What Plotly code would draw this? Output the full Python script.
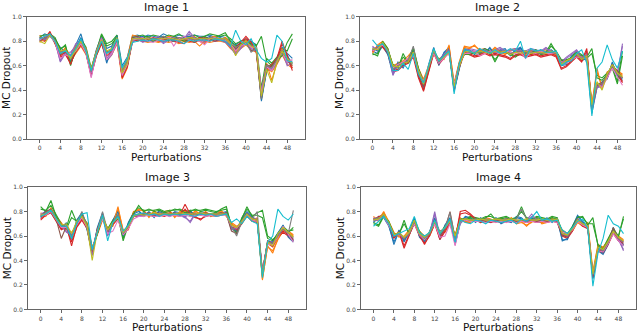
import plotly.graph_objects as go

perturbations = list(range(50))
x_ticks = list(range(0, 49, 4))
y_ticks = [0.0, 0.2, 0.4, 0.6, 0.8, 1.0]
titles = ["Image 1", "Image 2", "Image 3", "Image 4"]
colors = ["#1f77b4", "#ff7f0e", "#2ca02c", "#d62728", "#9467bd",
          "#8c564b", "#e377c2", "#7f7f7f", "#bcbd22", "#17becf"]

image1 = [
 [0.81,0.84,0.85,0.79,0.72,0.70,0.64,0.75,0.83,0.70,0.54,0.72,0.80,0.62,0.75,0.84,0.52,0.60,0.83,0.82,0.84,0.81,0.80,0.83,0.84,0.81,0.80,0.82,0.83,0.84,0.81,0.83,0.82,0.84,0.82,0.83,0.81,0.77,0.73,0.78,0.80,0.77,0.73,0.31,0.56,0.57,0.62,0.71,0.68,0.62],
 [0.79,0.82,0.86,0.81,0.71,0.74,0.68,0.76,0.79,0.74,0.57,0.72,0.82,0.72,0.71,0.80,0.56,0.66,0.85,0.84,0.81,0.83,0.82,0.80,0.82,0.84,0.83,0.80,0.81,0.82,0.84,0.80,0.78,0.83,0.84,0.81,0.83,0.79,0.72,0.76,0.81,0.75,0.75,0.38,0.62,0.48,0.62,0.74,0.65,0.60],
 [0.84,0.85,0.85,0.82,0.74,0.76,0.62,0.72,0.78,0.73,0.56,0.69,0.85,0.76,0.78,0.83,0.53,0.60,0.81,0.82,0.83,0.84,0.80,0.81,0.82,0.80,0.84,0.82,0.80,0.81,0.83,0.82,0.84,0.81,0.83,0.85,0.87,0.80,0.76,0.78,0.79,0.78,0.76,0.84,0.64,0.60,0.65,0.68,0.79,0.86],
 [0.83,0.82,0.88,0.78,0.68,0.71,0.61,0.73,0.81,0.71,0.53,0.70,0.79,0.68,0.72,0.82,0.50,0.59,0.82,0.80,0.82,0.81,0.83,0.82,0.81,0.83,0.81,0.79,0.78,0.82,0.81,0.83,0.82,0.80,0.82,0.81,0.80,0.77,0.75,0.79,0.84,0.79,0.72,0.36,0.58,0.61,0.66,0.80,0.67,0.56],
 [0.82,0.81,0.84,0.80,0.63,0.70,0.69,0.78,0.80,0.72,0.54,0.71,0.83,0.66,0.71,0.81,0.55,0.63,0.80,0.83,0.80,0.82,0.81,0.84,0.79,0.82,0.83,0.81,0.82,0.88,0.83,0.81,0.80,0.82,0.81,0.82,0.80,0.76,0.70,0.75,0.80,0.74,0.73,0.40,0.60,0.57,0.63,0.73,0.62,0.64],
 [0.80,0.83,0.86,0.81,0.69,0.72,0.66,0.74,0.79,0.72,0.56,0.69,0.80,0.71,0.73,0.80,0.54,0.62,0.83,0.84,0.82,0.81,0.82,0.82,0.83,0.80,0.82,0.83,0.82,0.82,0.79,0.82,0.83,0.82,0.80,0.82,0.82,0.78,0.74,0.77,0.79,0.72,0.74,0.34,0.61,0.59,0.65,0.72,0.64,0.60],
 [0.81,0.84,0.85,0.79,0.66,0.69,0.67,0.72,0.78,0.70,0.50,0.70,0.82,0.65,0.70,0.79,0.52,0.61,0.81,0.82,0.83,0.80,0.79,0.81,0.82,0.83,0.76,0.82,0.84,0.81,0.82,0.80,0.77,0.82,0.83,0.81,0.81,0.78,0.72,0.76,0.78,0.75,0.75,0.37,0.59,0.56,0.64,0.71,0.63,0.65],
 [0.83,0.82,0.86,0.80,0.71,0.73,0.65,0.75,0.81,0.73,0.55,0.71,0.81,0.70,0.74,0.82,0.55,0.63,0.82,0.83,0.81,0.83,0.82,0.82,0.84,0.82,0.81,0.83,0.82,0.82,0.81,0.82,0.81,0.83,0.82,0.82,0.82,0.78,0.75,0.77,0.80,0.71,0.74,0.33,0.60,0.58,0.64,0.71,0.66,0.61],
 [0.80,0.78,0.85,0.80,0.72,0.73,0.66,0.73,0.80,0.72,0.57,0.71,0.81,0.72,0.74,0.83,0.54,0.62,0.82,0.82,0.82,0.82,0.81,0.82,0.82,0.82,0.82,0.81,0.82,0.83,0.82,0.82,0.82,0.82,0.82,0.82,0.82,0.78,0.68,0.77,0.80,0.76,0.74,0.35,0.57,0.46,0.63,0.72,0.66,0.62],
 [0.82,0.84,0.86,0.80,0.70,0.72,0.68,0.74,0.82,0.72,0.56,0.70,0.80,0.70,0.73,0.82,0.58,0.66,0.79,0.80,0.81,0.80,0.82,0.81,0.80,0.81,0.81,0.80,0.78,0.81,0.80,0.81,0.81,0.80,0.82,0.81,0.80,0.76,0.89,0.80,0.77,0.82,0.73,0.66,0.63,0.66,0.85,0.80,0.64,0.63],
]
image1_extra = [
 [0.83,0.86,0.84,0.81,0.75,0.71,0.63,0.77,0.86,0.71,0.57,0.73,0.84,0.74,0.76,0.85,0.60,0.67,0.84,0.85,0.83,0.85,0.84,0.83,0.86,0.84,0.83,0.85,0.84,0.83,0.85,0.84,0.84,0.85,0.83,0.84,0.83,0.80,0.77,0.80,0.82,0.80,0.77,0.33,0.55,0.60,0.66,0.75,0.70,0.66],
 [0.85,0.80,0.87,0.78,0.68,0.75,0.64,0.70,0.76,0.69,0.52,0.68,0.78,0.64,0.69,0.78,0.49,0.58,0.80,0.81,0.80,0.79,0.80,0.79,0.80,0.79,0.80,0.78,0.80,0.79,0.80,0.76,0.80,0.79,0.80,0.80,0.79,0.74,0.71,0.74,0.77,0.73,0.71,0.32,0.58,0.55,0.61,0.69,0.61,0.58],
 [0.82,0.83,0.86,0.83,0.73,0.77,0.60,0.74,0.82,0.75,0.58,0.73,0.86,0.78,0.80,0.85,0.56,0.64,0.83,0.84,0.85,0.83,0.85,0.84,0.83,0.85,0.84,0.86,0.83,0.84,0.85,0.83,0.84,0.86,0.85,0.84,0.85,0.82,0.78,0.80,0.81,0.79,0.77,0.42,0.66,0.62,0.67,0.74,0.72,0.82],
 [0.81,0.80,0.87,0.79,0.67,0.69,0.62,0.71,0.77,0.70,0.52,0.68,0.78,0.66,0.70,0.80,0.51,0.60,0.80,0.81,0.80,0.80,0.81,0.80,0.80,0.81,0.80,0.80,0.81,0.80,0.79,0.81,0.80,0.81,0.80,0.81,0.80,0.76,0.72,0.76,0.82,0.77,0.71,0.34,0.57,0.60,0.64,0.78,0.69,0.58],
 [0.80,0.82,0.85,0.79,0.64,0.71,0.71,0.76,0.78,0.71,0.51,0.69,0.82,0.64,0.69,0.79,0.53,0.61,0.79,0.82,0.79,0.81,0.80,0.82,0.78,0.81,0.81,0.80,0.81,0.86,0.81,0.80,0.79,0.81,0.80,0.81,0.79,0.75,0.69,0.74,0.79,0.73,0.72,0.38,0.59,0.56,0.62,0.72,0.60,0.62],
]

image2 = [
 [0.74,0.72,0.77,0.70,0.55,0.62,0.60,0.65,0.72,0.53,0.44,0.60,0.74,0.61,0.70,0.74,0.40,0.58,0.73,0.72,0.70,0.73,0.71,0.74,0.70,0.72,0.73,0.69,0.72,0.74,0.70,0.72,0.71,0.72,0.70,0.72,0.71,0.61,0.62,0.67,0.70,0.65,0.67,0.23,0.44,0.46,0.50,0.62,0.52,0.49],
 [0.71,0.76,0.79,0.73,0.58,0.61,0.63,0.66,0.71,0.56,0.47,0.59,0.70,0.65,0.66,0.77,0.44,0.62,0.75,0.74,0.77,0.72,0.73,0.70,0.74,0.71,0.70,0.72,0.73,0.70,0.69,0.72,0.70,0.71,0.72,0.70,0.69,0.63,0.64,0.65,0.68,0.67,0.69,0.27,0.58,0.41,0.54,0.58,0.55,0.52],
 [0.70,0.68,0.80,0.74,0.59,0.58,0.70,0.62,0.74,0.57,0.46,0.57,0.73,0.64,0.68,0.71,0.43,0.61,0.70,0.69,0.71,0.70,0.74,0.72,0.63,0.71,0.72,0.70,0.68,0.71,0.72,0.70,0.73,0.70,0.71,0.78,0.71,0.64,0.65,0.66,0.71,0.68,0.67,0.74,0.50,0.48,0.53,0.59,0.47,0.72],
 [0.72,0.75,0.76,0.71,0.56,0.57,0.61,0.63,0.69,0.52,0.40,0.56,0.71,0.62,0.67,0.72,0.41,0.59,0.71,0.70,0.68,0.69,0.71,0.69,0.70,0.69,0.68,0.66,0.69,0.70,0.68,0.69,0.70,0.68,0.69,0.70,0.68,0.58,0.60,0.64,0.68,0.64,0.74,0.26,0.44,0.45,0.51,0.61,0.54,0.47],
 [0.75,0.73,0.78,0.72,0.54,0.60,0.62,0.64,0.70,0.55,0.45,0.58,0.72,0.63,0.69,0.73,0.42,0.60,0.72,0.73,0.72,0.71,0.73,0.71,0.72,0.74,0.71,0.72,0.73,0.72,0.71,0.73,0.72,0.71,0.74,0.71,0.70,0.62,0.66,0.69,0.72,0.66,0.69,0.24,0.43,0.44,0.52,0.60,0.53,0.78],
 [0.73,0.74,0.78,0.72,0.57,0.60,0.61,0.64,0.70,0.54,0.43,0.58,0.72,0.63,0.68,0.72,0.44,0.60,0.72,0.71,0.71,0.71,0.72,0.71,0.71,0.72,0.71,0.70,0.71,0.72,0.71,0.71,0.71,0.70,0.71,0.71,0.70,0.62,0.63,0.66,0.69,0.66,0.68,0.25,0.45,0.46,0.52,0.60,0.56,0.50],
 [0.72,0.74,0.77,0.72,0.58,0.61,0.63,0.66,0.68,0.56,0.46,0.60,0.70,0.62,0.66,0.70,0.45,0.61,0.70,0.70,0.72,0.68,0.70,0.72,0.71,0.70,0.72,0.71,0.70,0.71,0.66,0.71,0.70,0.72,0.70,0.70,0.71,0.63,0.62,0.65,0.67,0.67,0.66,0.27,0.46,0.42,0.50,0.58,0.51,0.44],
 [0.73,0.75,0.78,0.73,0.57,0.60,0.62,0.64,0.76,0.55,0.45,0.58,0.72,0.63,0.68,0.72,0.42,0.60,0.72,0.71,0.71,0.71,0.72,0.71,0.71,0.72,0.71,0.70,0.71,0.72,0.71,0.71,0.71,0.70,0.71,0.71,0.70,0.62,0.63,0.66,0.69,0.66,0.68,0.25,0.45,0.45,0.52,0.60,0.53,0.50],
 [0.74,0.73,0.79,0.72,0.60,0.59,0.62,0.63,0.71,0.56,0.45,0.59,0.73,0.64,0.67,0.71,0.43,0.59,0.71,0.72,0.70,0.72,0.71,0.70,0.72,0.71,0.72,0.69,0.71,0.70,0.72,0.70,0.71,0.71,0.70,0.72,0.71,0.61,0.64,0.66,0.70,0.65,0.68,0.28,0.47,0.40,0.53,0.61,0.54,0.51],
 [0.81,0.76,0.78,0.71,0.56,0.56,0.62,0.57,0.70,0.53,0.46,0.60,0.74,0.64,0.68,0.72,0.37,0.62,0.73,0.72,0.70,0.74,0.72,0.70,0.73,0.70,0.71,0.74,0.72,0.80,0.66,0.74,0.72,0.73,0.71,0.71,0.72,0.60,0.63,0.64,0.70,0.73,0.62,0.19,0.58,0.63,0.77,0.65,0.58,0.72],
]
image2_extra = [
 [0.72,0.70,0.76,0.69,0.53,0.63,0.58,0.66,0.74,0.51,0.42,0.61,0.75,0.60,0.71,0.75,0.39,0.57,0.74,0.73,0.69,0.74,0.70,0.75,0.69,0.73,0.74,0.68,0.73,0.75,0.69,0.73,0.70,0.73,0.69,0.73,0.70,0.60,0.61,0.68,0.71,0.64,0.66,0.21,0.42,0.47,0.49,0.63,0.51,0.48],
 [0.70,0.77,0.80,0.74,0.60,0.62,0.64,0.68,0.73,0.58,0.49,0.60,0.69,0.66,0.65,0.76,0.46,0.63,0.76,0.75,0.76,0.73,0.74,0.71,0.75,0.72,0.69,0.73,0.74,0.71,0.70,0.73,0.69,0.72,0.73,0.71,0.70,0.64,0.65,0.64,0.69,0.68,0.70,0.29,0.55,0.43,0.55,0.57,0.56,0.53],
 [0.69,0.70,0.79,0.73,0.61,0.59,0.67,0.63,0.75,0.58,0.47,0.56,0.72,0.65,0.69,0.70,0.44,0.62,0.69,0.70,0.70,0.69,0.73,0.71,0.65,0.70,0.71,0.69,0.67,0.70,0.71,0.69,0.72,0.69,0.70,0.76,0.72,0.65,0.64,0.67,0.72,0.69,0.66,0.70,0.52,0.50,0.54,0.58,0.45,0.68],
 [0.71,0.76,0.75,0.70,0.55,0.56,0.60,0.62,0.67,0.50,0.39,0.55,0.70,0.61,0.66,0.71,0.40,0.58,0.70,0.69,0.67,0.68,0.70,0.68,0.69,0.68,0.67,0.65,0.68,0.69,0.67,0.68,0.69,0.67,0.68,0.69,0.67,0.57,0.59,0.63,0.67,0.63,0.72,0.25,0.43,0.44,0.50,0.60,0.53,0.46],
 [0.76,0.72,0.77,0.73,0.52,0.61,0.63,0.65,0.71,0.56,0.44,0.59,0.73,0.64,0.70,0.74,0.41,0.61,0.73,0.74,0.73,0.72,0.74,0.72,0.73,0.75,0.72,0.73,0.74,0.73,0.72,0.74,0.73,0.72,0.75,0.72,0.71,0.63,0.67,0.70,0.73,0.67,0.70,0.23,0.42,0.43,0.53,0.61,0.54,0.76],
]

image3 = [
 [0.76,0.80,0.80,0.73,0.67,0.70,0.58,0.72,0.78,0.66,0.47,0.66,0.78,0.62,0.72,0.80,0.60,0.70,0.78,0.80,0.77,0.79,0.76,0.80,0.78,0.77,0.79,0.78,0.76,0.80,0.77,0.79,0.78,0.77,0.79,0.78,0.79,0.67,0.64,0.73,0.79,0.75,0.72,0.28,0.54,0.55,0.62,0.68,0.60,0.56],
 [0.78,0.77,0.82,0.75,0.70,0.66,0.62,0.69,0.75,0.70,0.50,0.62,0.74,0.66,0.69,0.84,0.64,0.66,0.79,0.82,0.80,0.76,0.80,0.77,0.79,0.80,0.76,0.79,0.80,0.77,0.80,0.78,0.79,0.77,0.78,0.80,0.77,0.70,0.67,0.71,0.77,0.73,0.74,0.24,0.52,0.46,0.58,0.65,0.63,0.60],
 [0.84,0.80,0.89,0.76,0.69,0.67,0.81,0.71,0.77,0.69,0.49,0.63,0.75,0.65,0.72,0.76,0.56,0.69,0.78,0.85,0.80,0.82,0.80,0.81,0.79,0.80,0.82,0.81,0.79,0.80,0.82,0.80,0.81,0.80,0.79,0.82,0.84,0.68,0.62,0.74,0.84,0.76,0.79,0.81,0.60,0.57,0.61,0.67,0.63,0.67],
 [0.74,0.78,0.80,0.73,0.66,0.68,0.52,0.68,0.74,0.67,0.46,0.65,0.76,0.63,0.70,0.75,0.62,0.67,0.77,0.77,0.79,0.78,0.77,0.78,0.77,0.79,0.78,0.77,0.86,0.78,0.76,0.73,0.77,0.78,0.77,0.78,0.79,0.69,0.65,0.71,0.78,0.73,0.72,0.32,0.55,0.52,0.60,0.64,0.61,0.57],
 [0.77,0.79,0.81,0.74,0.68,0.64,0.60,0.70,0.76,0.68,0.44,0.64,0.76,0.61,0.71,0.75,0.62,0.68,0.76,0.77,0.77,0.78,0.78,0.77,0.78,0.77,0.78,0.78,0.76,0.71,0.78,0.78,0.77,0.78,0.77,0.78,0.78,0.66,0.66,0.72,0.78,0.74,0.73,0.30,0.55,0.54,0.60,0.66,0.62,0.58],
 [0.76,0.80,0.82,0.74,0.58,0.68,0.58,0.71,0.76,0.68,0.48,0.63,0.76,0.64,0.71,0.74,0.63,0.68,0.77,0.78,0.78,0.79,0.78,0.79,0.78,0.78,0.79,0.78,0.78,0.79,0.78,0.78,0.79,0.78,0.78,0.79,0.78,0.64,0.62,0.72,0.78,0.74,0.73,0.30,0.56,0.54,0.61,0.66,0.62,0.57],
 [0.78,0.77,0.80,0.73,0.67,0.67,0.62,0.69,0.75,0.67,0.49,0.64,0.74,0.62,0.64,0.73,0.61,0.66,0.74,0.76,0.76,0.77,0.76,0.76,0.77,0.76,0.77,0.76,0.77,0.76,0.77,0.77,0.76,0.77,0.76,0.77,0.77,0.68,0.67,0.71,0.77,0.73,0.72,0.31,0.53,0.53,0.59,0.68,0.61,0.55],
 [0.77,0.79,0.81,0.74,0.68,0.69,0.60,0.70,0.80,0.68,0.48,0.64,0.80,0.64,0.71,0.78,0.62,0.68,0.76,0.78,0.78,0.78,0.78,0.78,0.78,0.78,0.78,0.78,0.78,0.78,0.78,0.78,0.78,0.78,0.78,0.78,0.78,0.68,0.60,0.72,0.78,0.74,0.80,0.30,0.55,0.54,0.60,0.66,0.62,0.81],
 [0.77,0.78,0.81,0.74,0.69,0.70,0.62,0.72,0.76,0.68,0.40,0.64,0.76,0.65,0.71,0.75,0.63,0.68,0.76,0.78,0.77,0.78,0.79,0.78,0.78,0.78,0.78,0.79,0.78,0.78,0.78,0.79,0.78,0.78,0.78,0.78,0.78,0.69,0.67,0.72,0.78,0.74,0.73,0.27,0.55,0.52,0.62,0.67,0.63,0.59],
 [0.76,0.78,0.81,0.75,0.68,0.68,0.58,0.70,0.78,0.79,0.49,0.63,0.77,0.56,0.71,0.76,0.64,0.69,0.77,0.78,0.79,0.77,0.78,0.76,0.78,0.77,0.78,0.77,0.78,0.77,0.76,0.78,0.77,0.78,0.76,0.77,0.78,0.71,0.74,0.70,0.76,0.72,0.70,0.26,0.55,0.60,0.82,0.76,0.73,0.78],
]
image3_extra = [
 [0.75,0.81,0.79,0.72,0.66,0.71,0.57,0.73,0.79,0.65,0.46,0.67,0.79,0.61,0.73,0.81,0.59,0.71,0.79,0.81,0.76,0.80,0.75,0.81,0.79,0.76,0.80,0.79,0.75,0.81,0.76,0.80,0.79,0.76,0.80,0.79,0.80,0.66,0.63,0.74,0.80,0.76,0.71,0.27,0.53,0.56,0.63,0.69,0.59,0.55],
 [0.79,0.76,0.83,0.76,0.71,0.65,0.63,0.68,0.74,0.71,0.51,0.61,0.73,0.67,0.68,0.82,0.65,0.65,0.80,0.81,0.81,0.75,0.81,0.76,0.80,0.81,0.75,0.80,0.81,0.76,0.81,0.77,0.80,0.76,0.77,0.81,0.76,0.71,0.68,0.70,0.76,0.72,0.75,0.25,0.51,0.48,0.57,0.64,0.64,0.61],
 [0.82,0.81,0.85,0.77,0.70,0.66,0.75,0.72,0.78,0.70,0.50,0.62,0.76,0.66,0.73,0.77,0.58,0.70,0.79,0.83,0.81,0.81,0.81,0.82,0.80,0.81,0.81,0.82,0.80,0.81,0.81,0.81,0.82,0.81,0.80,0.81,0.82,0.69,0.63,0.75,0.82,0.77,0.77,0.75,0.58,0.56,0.62,0.68,0.64,0.65],
 [0.73,0.77,0.79,0.72,0.65,0.67,0.55,0.67,0.73,0.66,0.45,0.66,0.75,0.62,0.69,0.74,0.61,0.66,0.76,0.76,0.78,0.77,0.76,0.77,0.76,0.78,0.77,0.76,0.82,0.77,0.75,0.74,0.76,0.77,0.76,0.77,0.78,0.68,0.64,0.70,0.77,0.72,0.71,0.31,0.54,0.51,0.59,0.63,0.60,0.56],
 [0.78,0.80,0.82,0.75,0.69,0.63,0.61,0.71,0.77,0.69,0.45,0.65,0.77,0.60,0.72,0.76,0.63,0.69,0.77,0.76,0.78,0.77,0.79,0.76,0.79,0.76,0.79,0.77,0.75,0.72,0.79,0.77,0.78,0.77,0.78,0.77,0.79,0.65,0.67,0.73,0.79,0.75,0.74,0.29,0.56,0.55,0.61,0.67,0.63,0.59],
]

image4 = [
 [0.72,0.75,0.76,0.69,0.53,0.64,0.56,0.63,0.74,0.60,0.56,0.63,0.74,0.58,0.68,0.74,0.54,0.70,0.75,0.74,0.72,0.74,0.73,0.72,0.74,0.71,0.73,0.72,0.75,0.74,0.72,0.74,0.73,0.72,0.74,0.72,0.74,0.56,0.58,0.67,0.76,0.71,0.67,0.26,0.49,0.46,0.54,0.66,0.57,0.53],
 [0.75,0.73,0.80,0.71,0.62,0.60,0.59,0.64,0.71,0.63,0.59,0.61,0.71,0.62,0.64,0.72,0.60,0.74,0.72,0.72,0.74,0.72,0.74,0.73,0.72,0.74,0.72,0.74,0.71,0.72,0.68,0.72,0.74,0.71,0.72,0.74,0.72,0.64,0.61,0.65,0.72,0.69,0.70,0.30,0.52,0.50,0.56,0.63,0.59,0.56],
 [0.70,0.68,0.76,0.72,0.61,0.61,0.73,0.61,0.73,0.63,0.57,0.62,0.73,0.61,0.67,0.71,0.59,0.73,0.73,0.75,0.74,0.73,0.75,0.78,0.73,0.74,0.75,0.73,0.74,0.84,0.74,0.73,0.75,0.74,0.73,0.75,0.74,0.63,0.61,0.67,0.75,0.76,0.69,0.75,0.52,0.49,0.57,0.65,0.59,0.76],
 [0.74,0.75,0.78,0.70,0.59,0.63,0.50,0.60,0.71,0.61,0.53,0.61,0.71,0.58,0.65,0.71,0.57,0.80,0.81,0.78,0.74,0.72,0.73,0.72,0.73,0.72,0.74,0.73,0.72,0.73,0.72,0.73,0.72,0.73,0.72,0.73,0.72,0.61,0.59,0.65,0.74,0.69,0.67,0.27,0.49,0.47,0.54,0.63,0.57,0.54],
 [0.73,0.74,0.77,0.70,0.60,0.62,0.58,0.62,0.72,0.62,0.58,0.62,0.80,0.60,0.66,0.72,0.58,0.72,0.74,0.73,0.73,0.73,0.73,0.73,0.73,0.73,0.73,0.73,0.73,0.73,0.73,0.78,0.73,0.73,0.73,0.73,0.73,0.62,0.60,0.66,0.74,0.70,0.68,0.28,0.50,0.48,0.55,0.64,0.58,0.48],
 [0.74,0.74,0.77,0.70,0.60,0.62,0.58,0.62,0.72,0.62,0.58,0.62,0.72,0.60,0.66,0.80,0.58,0.72,0.74,0.73,0.72,0.73,0.72,0.73,0.72,0.73,0.72,0.73,0.72,0.73,0.72,0.73,0.72,0.73,0.72,0.73,0.72,0.60,0.60,0.66,0.74,0.70,0.68,0.28,0.50,0.48,0.55,0.67,0.58,0.55],
 [0.75,0.73,0.76,0.69,0.61,0.61,0.59,0.63,0.70,0.61,0.57,0.63,0.70,0.59,0.60,0.70,0.52,0.71,0.73,0.72,0.72,0.72,0.71,0.72,0.71,0.72,0.71,0.72,0.71,0.72,0.71,0.72,0.71,0.72,0.71,0.72,0.71,0.63,0.62,0.65,0.72,0.69,0.67,0.29,0.48,0.47,0.54,0.62,0.56,0.52],
 [0.74,0.75,0.77,0.70,0.60,0.62,0.58,0.62,0.72,0.62,0.58,0.62,0.72,0.64,0.66,0.79,0.58,0.72,0.74,0.73,0.74,0.73,0.74,0.73,0.74,0.73,0.74,0.73,0.74,0.82,0.74,0.73,0.74,0.73,0.74,0.73,0.74,0.62,0.60,0.66,0.74,0.70,0.68,0.28,0.50,0.48,0.55,0.64,0.58,0.55],
 [0.73,0.74,0.78,0.71,0.61,0.63,0.59,0.63,0.73,0.62,0.59,0.63,0.72,0.62,0.67,0.72,0.60,0.73,0.74,0.73,0.73,0.74,0.73,0.73,0.74,0.73,0.73,0.74,0.73,0.73,0.74,0.73,0.73,0.74,0.73,0.73,0.74,0.62,0.61,0.66,0.73,0.70,0.68,0.29,0.51,0.49,0.56,0.64,0.59,0.56],
 [0.68,0.72,0.76,0.70,0.60,0.62,0.64,0.66,0.76,0.63,0.60,0.63,0.73,0.62,0.67,0.74,0.55,0.73,0.71,0.70,0.73,0.72,0.70,0.73,0.72,0.71,0.72,0.73,0.70,0.74,0.72,0.75,0.80,0.73,0.74,0.72,0.73,0.65,0.62,0.67,0.72,0.74,0.66,0.19,0.46,0.58,0.77,0.70,0.68,0.62],
]
image4_extra = [
 [0.71,0.76,0.75,0.68,0.55,0.65,0.55,0.64,0.75,0.59,0.55,0.64,0.75,0.57,0.69,0.75,0.53,0.71,0.76,0.75,0.71,0.75,0.72,0.71,0.75,0.70,0.72,0.71,0.76,0.75,0.71,0.75,0.72,0.71,0.75,0.71,0.75,0.57,0.57,0.68,0.77,0.72,0.66,0.25,0.48,0.45,0.53,0.67,0.56,0.52],
 [0.76,0.72,0.79,0.72,0.63,0.59,0.60,0.65,0.70,0.64,0.60,0.60,0.70,0.63,0.63,0.71,0.61,0.75,0.71,0.71,0.75,0.71,0.75,0.74,0.71,0.75,0.71,0.75,0.70,0.71,0.69,0.71,0.75,0.70,0.71,0.75,0.71,0.65,0.62,0.64,0.71,0.68,0.71,0.31,0.53,0.51,0.57,0.62,0.60,0.57],
 [0.71,0.69,0.77,0.71,0.62,0.62,0.70,0.62,0.74,0.64,0.58,0.63,0.74,0.62,0.68,0.72,0.60,0.74,0.74,0.76,0.75,0.74,0.76,0.76,0.74,0.75,0.76,0.74,0.75,0.80,0.75,0.74,0.76,0.75,0.74,0.76,0.75,0.64,0.62,0.68,0.76,0.75,0.70,0.70,0.53,0.50,0.58,0.66,0.60,0.74],
 [0.73,0.76,0.77,0.69,0.58,0.64,0.52,0.61,0.70,0.60,0.54,0.60,0.70,0.57,0.64,0.70,0.56,0.78,0.79,0.77,0.73,0.71,0.72,0.71,0.72,0.71,0.73,0.72,0.71,0.72,0.71,0.72,0.71,0.72,0.71,0.72,0.71,0.60,0.58,0.64,0.73,0.68,0.66,0.26,0.48,0.46,0.53,0.62,0.56,0.53],
 [0.72,0.73,0.76,0.71,0.61,0.61,0.57,0.61,0.71,0.61,0.57,0.61,0.78,0.59,0.65,0.71,0.57,0.71,0.73,0.72,0.72,0.72,0.72,0.72,0.72,0.72,0.72,0.72,0.72,0.72,0.72,0.76,0.72,0.72,0.72,0.72,0.72,0.61,0.59,0.65,0.73,0.69,0.67,0.27,0.49,0.47,0.54,0.63,0.57,0.49],
]

W, H = 640, 333
# plot boxes in pixels: (left, right, top, bottom)
boxes = [(27, 305, 13, 138), (360, 635, 13, 138), (28, 306, 187, 312), (361, 636, 187, 312)]
datasets = [image1, image2, image3, image4]
extras = [image1_extra, image2_extra, image3_extra, image4_extra]

fig = go.Figure()
layout = dict(width=W, height=H, margin=dict(l=0, r=0, t=0, b=0),
              paper_bgcolor="white", plot_bgcolor="white", showlegend=False)
annotations = []
for k, (box, data, extra) in enumerate(zip(boxes, datasets, extras)):
    n = k + 1
    xa = "xaxis" if n == 1 else f"xaxis{n}"
    ya = "yaxis" if n == 1 else f"yaxis{n}"
    xr = "x" if n == 1 else f"x{n}"
    yr = "y" if n == 1 else f"y{n}"
    l, r, t, b = box
    for group in (extra, data):
        for i, series in enumerate(group):
            fig.add_trace(go.Scatter(x=perturbations, y=series, mode="lines",
                                     line=dict(color=colors[i % 10], width=1.1),
                                     xaxis=xr, yaxis=yr, hoverinfo="skip"))
    axcommon = dict(showgrid=False, zeroline=False, showline=True, mirror=True,
                    linecolor="#666", linewidth=1, ticks="outside", ticklen=3,
                    tickcolor="#666", tickfont=dict(family="DejaVu Sans", size=6, color="#444"))
    layout[xa] = dict(axcommon, domain=[l / W, r / W], range=[-2.45, 51.45],
                      tickvals=x_ticks, anchor=yr)
    layout[ya] = dict(axcommon, domain=[1 - b / H, 1 - t / H], range=[0, 1],
                      tickvals=y_ticks, ticktext=[f"{v:.1f}" for v in y_ticks], anchor=xr)
    annotations.append(dict(text=titles[k], x=(l + r) / 2 / W, y=1 - t / H, xref="paper", yref="paper",
                            xanchor="center", yanchor="bottom", showarrow=False, yshift=1,
                            font=dict(family="DejaVu Sans", size=11, color="#111")))
    annotations.append(dict(text="Perturbations", x=(l + r) / 2 / W, y=1 - b / H, xref="paper", yref="paper",
                            xanchor="center", yanchor="top", showarrow=False, yshift=-10,
                            font=dict(family="DejaVu Sans", size=10.5, color="#111")))
    annotations.append(dict(text="MC Dropout", x=l / W, y=1 - (t + b) / 2 / H, xref="paper", yref="paper",
                            xanchor="right", yanchor="middle", showarrow=False, xshift=-13, textangle=-90,
                            font=dict(family="DejaVu Sans", size=10.5, color="#111")))
layout["annotations"] = annotations
fig.update_layout(**layout)
fig.write_html("out.html", config={"displayModeBar": False},
               post_script="document.body.style.margin='0';")
